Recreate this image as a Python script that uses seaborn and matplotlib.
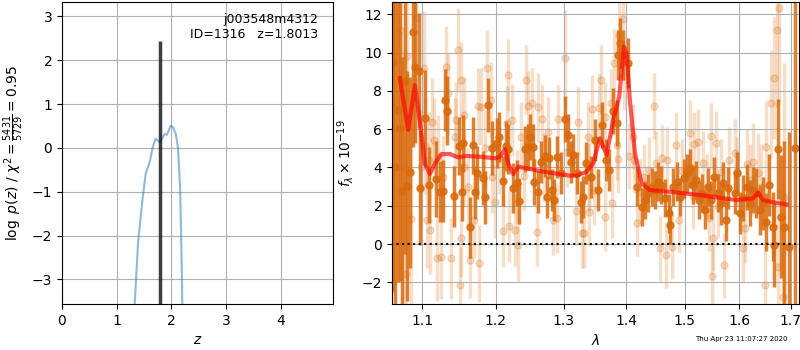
import numpy as np
import pandas as pd
import seaborn as sns
import matplotlib
matplotlib.use('Agg')
import matplotlib.pyplot as plt
from matplotlib.ticker import ScalarFormatter, NullLocator

# p(z) curve
pz_z = [1.28, 1.33, 1.39, 1.47, 1.53, 1.61, 1.66, 1.71, 1.75, 1.79, 1.82, 1.88, 1.92,
        1.96, 1.99, 2.03, 2.08, 2.12, 2.16, 2.19, 2.20, 2.23]
pz_log = [-5.0, -3.56, -2.18, -1.2, -0.59, -0.29, 0.02, 0.21, 0.17, 0.13, 0.2, 0.32, 0.3,
          0.43, 0.51, 0.47, 0.32, 0.02, -0.9, -2.72, -3.56, -5.0]
z_best = 1.8013
z_top = 2.43

# model spectrum
model_wave = [1.0714, 1.0820, 1.0906, 1.0979, 1.1035, 1.1100, 1.1166, 1.1254, 1.1364, 1.1476,
              1.1590, 1.1779, 1.1987, 1.2059, 1.2130, 1.2177, 1.2249, 1.2321, 1.2688, 1.3097,
              1.3201, 1.3358, 1.3462, 1.3569, 1.3677, 1.3784, 1.3882, 1.3959, 1.4004, 1.4058,
              1.4142, 1.4254, 1.4393, 1.4737, 1.5268, 1.5944, 1.6260, 1.6356, 1.6453, 1.6651,
              1.6917]
model_flux = [8.66, 5.96, 8.3, 6.13, 4.2, 3.66, 4.2, 4.7, 4.7, 4.53,
              4.6, 4.56, 4.48, 4.56, 4.95, 4.2, 3.66, 4.04, 3.78, 3.57,
              3.57, 3.78, 4.21, 5.52, 4.65, 6.48, 7.7, 10.3, 9.96, 7.52,
              4.74, 3.17, 2.82, 2.73, 2.56, 2.3, 2.39, 2.68, 2.3, 2.18,
              2.07]

# first grism visit (strong)
dark_wave = [1.0625, 1.0655, 1.0685, 1.0711, 1.0738, 1.0775, 1.0806, 1.0839, 1.0884, 1.0912,
             1.0957, 1.0974, 1.1039, 1.1091, 1.1183, 1.1233, 1.1278, 1.1301, 1.1333, 1.1416,
             1.1495, 1.1524, 1.1538, 1.1637, 1.1678, 1.1715, 1.1729, 1.1816, 1.1852, 1.1894,
             1.1942, 1.2012, 1.2045, 1.2097, 1.2144, 1.2177, 1.2249, 1.2298, 1.2335, 1.2418,
             1.2467, 1.2488, 1.2536, 1.2551, 1.2610, 1.2659, 1.2710, 1.2748, 1.2784, 1.2819,
             1.2859, 1.2898, 1.2958, 1.3019, 1.3060, 1.3110, 1.3151, 1.3201, 1.3263, 1.3304,
             1.3355, 1.3420, 1.3484, 1.3532, 1.3598, 1.3670, 1.3711, 1.3788, 1.3841, 1.3866,
             1.3893, 1.3944, 1.4023, 1.4181, 1.4261, 1.4316, 1.4369, 1.4423, 1.4478, 1.4532,
             1.4587, 1.4662, 1.4717, 1.4746, 1.4791, 1.4859, 1.4917, 1.4986, 1.5043, 1.5090,
             1.5148, 1.5207, 1.5254, 1.5313, 1.5355, 1.5414, 1.5473, 1.5534, 1.5594, 1.5654,
             1.5685, 1.5745, 1.5794, 1.5918, 1.5949, 1.6010, 1.6073, 1.6135, 1.6197, 1.6260,
             1.6323, 1.6386, 1.6450, 1.6513, 1.6577, 1.6642, 1.6673, 1.6751, 1.6804, 1.6869,
             1.6968, 1.7080]
dark_flux = [9.5, 4.0, 7.0, 6.08, 2.78, 8.5, 3.03, 3.74, 11.06, 9.27,
             9.04, 2.93, 6.6, 3.08, 3.4, 2.73, 2.77, 7.52, 6.96, 2.5,
             5.12, 2.7, 5.26, 0.87, 5.15, 2.7, 3.73, 3.46, 2.44, 7.25,
             5.03, 5.26, 5.6, 3.29, 5.14, 4.95, 2.94, 3.17, 2.25, 4.96,
             5.08, 5.6, 5.08, 3.22, 2.7, 4.27, 4.61, 2.47, 4.48, 2.82,
             2.3, 4.56, 3.69, 6.53, 5.69, 4.27, 4.65, 3.69, 2.21, 2.47,
             4.22, 3.5, 5.43, 2.82, 6.22, 4.39, 3.87, 6.95, 6.31, 9.87,
             10.49, 9.87, 9.44, 2.99, 1.95, 2.3, 2.65, 2.99, 2.82, 3.26,
             3.08, 2.39, 1.6, 0.99, 2.99, 3.26, 2.47, 3.43, 3.69, 3.95,
             3.08, 3.34, 2.3, 2.65, 1.78, 2.99, 2.3, 3.52, 2.65, 2.12,
             3.17, 1.25, 2.91, 2.65, 3.69, 1.6, 2.39, 2.99, 2.12, 2.82,
             2.65, 1.78, 2.12, 1.16, 3.08, 0.9, -0.05, 4.95, 1.43, 0.9,
             -0.14, 5.0]
dark_err = [12, 10, 9, 8, 7, 9, 6, 5, 6, 4,
            3, 3, 2.5, 2, 2, 1.6, 1.6, 1.6, 1.8, 1.6,
            1.5, 1.5, 1.5, 1.6, 1.5, 1.4, 1.4, 1.4, 1.4, 1.4,
            1.4, 1.3, 1.3, 1.3, 1.3, 1.3, 1.3, 1.2, 1.2, 1.2,
            1.2, 1.2, 1.2, 1.2, 1.1, 1.1, 1.1, 1.1, 1.1, 1.1,
            1.1, 1.1, 1.1, 1.2, 1.1, 1.1, 1.1, 1.1, 1.1, 1.1,
            1.1, 1.1, 1.1, 1.1, 1.2, 1.1, 1.1, 1.2, 1.2, 1.3,
            1.3, 1.3, 1.3, 1.0, 1.0, 1.0, 1.0, 1.0, 1.0, 1.0,
            1.0, 1.0, 1.0, 1.0, 1.0, 1.0, 1.0, 1.0, 1.0, 1.0,
            1.0, 1.0, 1.0, 1.0, 1.0, 1.0, 1.0, 1.0, 1.0, 1.1,
            1.1, 1.1, 1.1, 1.1, 1.1, 1.1, 1.2, 1.2, 1.2, 1.2,
            1.3, 1.3, 1.4, 1.5, 1.6, 1.8, 2.2, 2.6, 3.2, 4.5,
            6.0, 15]

# second grism visit (faint)
light_wave = [1.0640, 1.0716, 1.0760, 1.0790, 1.0801, 1.0850, 1.0922, 1.0990, 1.1018, 1.1031,
              1.1061, 1.1083, 1.1104, 1.1126, 1.1161, 1.1191, 1.1213, 1.1248, 1.1279, 1.1309,
              1.1335, 1.1380, 1.1433, 1.1442, 1.1478, 1.1500, 1.1510, 1.1523, 1.1558, 1.1560,
              1.1612, 1.1634, 1.1693, 1.1747, 1.1770, 1.1793, 1.1850, 1.1879, 1.1925, 1.1952,
              1.1984, 1.2050, 1.2097, 1.2153, 1.2177, 1.2191, 1.2224, 1.2271, 1.2300, 1.2318,
              1.2366, 1.2413, 1.2437, 1.2461, 1.2521, 1.2604, 1.2619, 1.2669, 1.2700, 1.2758,
              1.2834, 1.2898, 1.2909, 1.3019, 1.3050, 1.3186, 1.3222, 1.3288, 1.3313, 1.3374,
              1.3389, 1.3400, 1.3451, 1.3477, 1.3555, 1.3581, 1.3648, 1.3659, 1.3753, 1.3763,
              1.3804, 1.3841, 1.3857, 1.3877, 1.3944, 1.3960, 1.4049, 1.4102, 1.4128, 1.4171,
              1.4235, 1.4300, 1.4385, 1.4467, 1.4504, 1.4560, 1.4600, 1.4678, 1.4689, 1.4774,
              1.4848, 1.4904, 1.4950, 1.5090, 1.5150, 1.5160, 1.5236, 1.5324, 1.5400, 1.5432,
              1.5473, 1.5492, 1.5504, 1.5564, 1.5600, 1.5654, 1.5716, 1.5807, 1.5907, 1.5950,
              1.6073, 1.6103, 1.6150, 1.6197, 1.6260, 1.6354, 1.6420, 1.6481, 1.6513, 1.6610,
              1.6673, 1.6726, 1.6738, 1.6771, 1.6836, 1.6869]
light_flux = [6.0, 11.2, 4.0, -1.57, 9.82, 1.3, 11.79, 4.0, 9.18, 5.12,
              1.25, 4.39, 0.73, 6.39, 5.43, -0.75, 4.56, -0.66, 3.52, 9.26,
              7.87, -0.75, 5.6, 6.48, 10.14, -2.14, 8.57, 0.3, 6.74, 4.0,
              2.99, -0.84, 1.25, 7.21, -1.01, 7.17, 5.0, 9.18, 7.52, 3.52,
              2.21, 4.5, 0.68, 6.34, 8.83, 0.94, 6.48, 0.73, 3.0, -0.05,
              5.6, 3.57, 8.57, 7.21, 7.38, 0.64, 7.14, 6.53, 4.0, 5.87,
              1.25, 1.34, 6.53, 9.7, 4.8, 1.74, 6.39, 0.56, 0.56, 5.6,
              1.69, 3.5, 7.05, 2.82, 7.09, 8.57, 6.65, 1.43, 7.35, 2.12,
              9.44, 5.17, 4.44, 10.92, 11.76, 8.78, 4.6, 5.6, 4.39, 1.08,
              2.73, 3.5, 3.87, 7.21, 4.22, -0.23, 4.5, -0.57, 4.39, -0.14,
              5.17, 1.25, 3.8, 5.82, 2.5, 5.22, 5.35, 4.22, 3.0, 1.34,
              5.64, -1.67, 0.3, 5.26, 2.0, 3.78, -1.1, 4.39, 4.74, 3.8,
              -0.23, 0.82, 4.2, 3.34, 4.3, 3.69, 3.0, -2.14, 5.08, 7.35,
              8.66, 11.18, -1.19, 12.3, -2.75, 2.47]
light_err = [8, 7, 7, 6, 5, 5, 4, 3, 3, 2.5,
             2.5, 2.5, 2.3, 2.3, 2.2, 2.2, 2.2, 2.2, 2.1, 2.1,
             2.1, 2.1, 2.0, 2.0, 2.2, 2.0, 2.0, 2.0, 2.0, 2.0,
             2.0, 2.0, 2.0, 2.0, 2.0, 2.0, 2.0, 2.0, 2.0, 1.9,
             1.9, 1.9, 1.9, 1.9, 1.9, 1.9, 1.9, 1.9, 1.9, 1.9,
             1.8, 1.8, 1.8, 1.8, 1.8, 1.8, 1.8, 1.8, 1.8, 1.8,
             1.8, 1.8, 1.8, 2.5, 1.8, 1.8, 1.8, 1.8, 1.8, 1.8,
             1.8, 1.8, 1.8, 1.8, 1.8, 1.8, 1.8, 1.8, 1.8, 1.8,
             1.8, 1.8, 1.8, 1.8, 1.8, 1.8, 1.7, 1.7, 1.7, 1.7,
             1.7, 1.7, 1.7, 1.7, 1.7, 1.7, 1.7, 1.7, 1.7, 1.7,
             1.7, 1.7, 1.7, 1.7, 1.7, 1.7, 1.7, 1.7, 1.7, 1.7,
             1.7, 1.7, 1.7, 1.7, 1.7, 1.7, 1.7, 1.7, 1.8, 1.8,
             1.8, 1.8, 1.8, 1.9, 2.0, 2.1, 2.2, 2.3, 2.4, 2.8,
             3.2, 4, 4, 5, 6, 7]

orange = (0.85, 0.42, 0.05)

fig = plt.figure(figsize=(8, 3.5), dpi=100)

# --- left: redshift PDF
ax = fig.add_axes([0.0775, 0.1314, 0.339, 0.863])
pz = pd.DataFrame({'z': pz_z, 'logp': pz_log})
sns.lineplot(data=pz, x='z', y='logp', ax=ax, sort=False, estimator=None,
             color='#1f77b4', alpha=0.5, linewidth=1.5)
ax.vlines(z_best, -3.56, z_top, color='k', alpha=0.75, linewidth=2.5)
ax.set_xlim(0, 4.96)
ax.set_ylim(-3.56, 3.33)
ax.set_xticks([0, 1, 2, 3, 4])
ax.set_yticks([-3, -2, -1, 0, 1, 2, 3])
ax.grid(True)
ax.set_xlabel(r'$z$')
ax.set_ylabel(r'$\log\ p(z)$ / $\chi^2=\frac{5431}{5729}=0.95$')
ax.text(0.945, 0.965, 'j003548m4312\nID=1316   z=1.8013', ha='right', va='top',
        transform=ax.transAxes, fontsize=9, linespacing=1.25)

# --- right: 1D spectrum
ax2 = fig.add_axes([0.49, 0.1314, 0.509, 0.863])
ax2.errorbar(light_wave, light_flux, yerr=light_err, fmt='o', color=orange,
             alpha=0.22, markersize=5, elinewidth=2.5, capsize=0, zorder=1)
ax2.errorbar(dark_wave, dark_flux, yerr=dark_err, fmt='o', color=orange,
             alpha=0.85, markersize=5, elinewidth=2.5, capsize=0, zorder=2)
model = pd.DataFrame({'wave': model_wave, 'flux': model_flux})
sns.lineplot(data=model, x='wave', y='flux', ax=ax2, sort=False, estimator=None,
             color='red', alpha=0.65, linewidth=3, zorder=3)
ax2.plot([1.06, 1.717], [0, 0], color='k', linestyle=':', linewidth=1.5, zorder=4)
ax2.set_xscale('log')
ax2.set_xlim(1.0615, 1.717)
ax2.set_ylim(-3.13, 12.64)
ax2.set_xticks([1.1, 1.2, 1.3, 1.4, 1.5, 1.6, 1.7])
ax2.xaxis.set_major_formatter(ScalarFormatter())
ax2.xaxis.set_minor_locator(NullLocator())
ax2.set_yticks([-2, 0, 2, 4, 6, 8, 10, 12])
ax2.grid(True)
ax2.set_xlabel(r'$\lambda$')
ax2.set_ylabel(r'$f_\lambda\times10^{-19}$')

fig.text(0.984, 0.022, 'Thu Apr 23 11:07:27 2020', ha='right', va='bottom', fontsize=5)

fig.savefig('out.png', dpi=100)
